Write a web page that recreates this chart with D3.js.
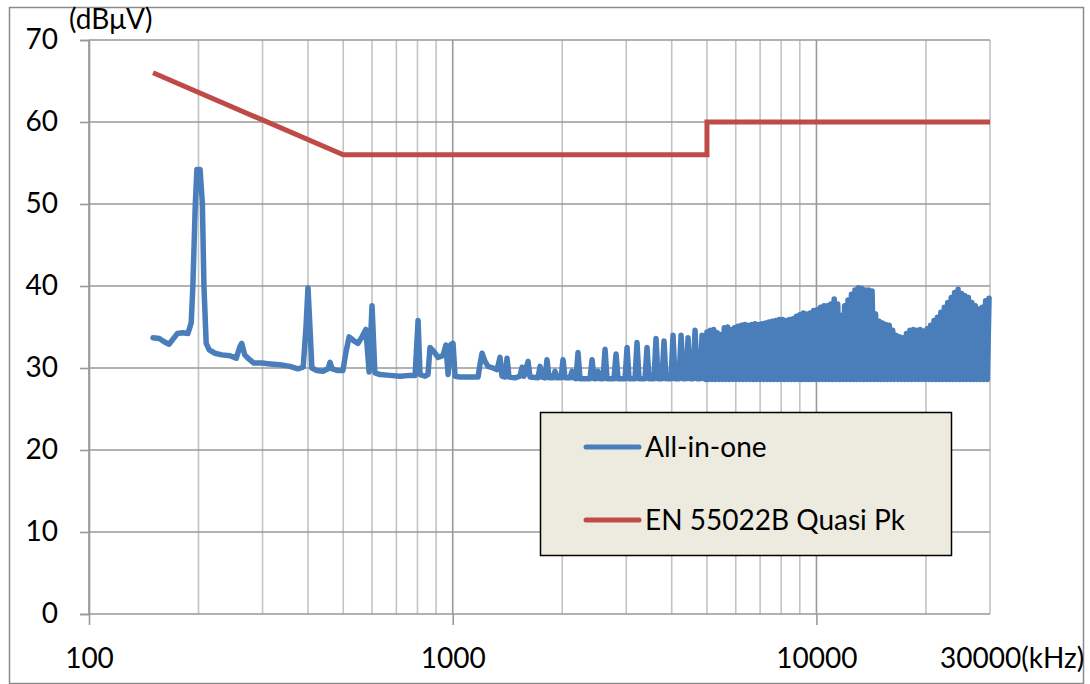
<!DOCTYPE html>
<html><head><meta charset="utf-8">
<script src="https://cdn.jsdelivr.net/npm/d3@7"></script>
<style>
body{margin:0;background:#fff;}
svg{display:block;font-family:Lato,'Open Sans',sans-serif;}
</style></head><body>
<svg id="chart" width="1090" height="684"></svg>
<script>
// ---------- DATA ----------
const yTicks = [0, 10, 20, 30, 40, 50, 60, 70];
const xMajorTicks = [100, 1000, 10000];
const xMinorTicks = [200, 300, 400, 500, 600, 700, 800, 900, 2000, 3000, 4000, 5000, 6000, 7000, 8000, 9000, 20000, 30000];
const yUnit = "(dBμV)";
const xEndLabel = "30000(kHz)";
const seriesNames = ["All-in-one", "EN 55022B Quasi Pk"];

// EN 55022 class B quasi-peak limit
const limitKHz = [150, 500, 5000, 5000, 30000];
const limitDB  = [66, 56, 56, 60, 60];

// measured trace, 150 kHz .. 4.9 MHz (frequency kHz / level dBµV)
const scanKHz = [150,156,161,166,170,175,181,187,191,193,196,198,202,205,207,210,214,222,232,244,254,260,263,268,275,284,299,315,335,357,375,388,395,400,405,410,423,440,454,460,466,481,499,509,519,535,549,563,577,589,600,611,631,672,716,763,788,803,813,839,855,866,888,911,940,958,971,989,1002,1015,1047,1116,1174,1189,1204,1227,1250,1291,1324,1349,1366,1393,1410,1428,1484,1531,1551,1570,1611,1631,1716,1738,1760,1794,1816,1840,1887,1911,1935,1985,2010,2036,2101,2128,2155,2183,2210,2239,2385,2416,2446,2477,2509,2541,2590,2623,2656,2776,2812,2848,2977,3015,3053,3171,3211,3252,3378,3421,3465,3576,3622,3668,3762,3810,3858,3983,4033,4085,4190,4244,4298,4380,4436,4493,4579,4637,4697,4786,4847,4910];
const scanDB  = [33.7,33.6,33.2,32.9,33.5,34.2,34.3,34.2,35.5,40.0,50.0,54.2,54.2,50.0,40.0,33.0,32.2,31.8,31.6,31.5,31.2,32.6,33.0,31.6,31.1,30.6,30.6,30.5,30.4,30.2,29.9,30.1,35.0,39.8,35.0,30.0,29.7,29.6,29.9,30.7,29.9,29.7,29.7,32.0,33.8,33.3,33.0,33.8,34.7,29.5,37.6,29.4,29.2,29.1,29.0,29.1,29.1,35.8,29.2,29.0,29.2,32.5,32.0,31.3,31.5,32.8,29.2,32.9,33.0,29.0,28.9,28.9,28.9,30.5,31.8,30.8,30.2,30.0,29.8,31.3,29.0,28.9,31.2,28.9,28.8,29.0,30.1,29.0,30.8,28.9,28.8,30.2,28.9,28.8,31.0,28.8,28.8,29.6,28.8,28.8,31.0,28.8,28.8,29.6,28.8,28.7,31.9,28.7,28.7,31.0,28.7,28.7,29.6,28.7,28.7,32.3,28.7,28.7,31.7,28.7,28.7,32.5,28.7,28.7,33.1,28.7,28.7,32.5,28.7,28.7,33.6,28.7,28.7,33.3,28.7,28.7,34.0,28.7,28.7,34.0,28.7,28.7,33.7,28.7,28.7,34.6,28.7,28.7,34.0,28.7];

// dense harmonic region 5 MHz .. 30 MHz: peak frequency (kHz) / peak level, floor level
const densePeakKHz = [5000,5110,5220,5340,5460,5580,5700,5820,5950,6080,6220,6350,6490,6640,6780,6930,7090,7240,7400,7560,7730,7900,8070,8250,8430,8620,8810,9000,9200,9400,9610,9820,10040,10260,10490,10720,10950,11190,11440,11690,11950,12210,12480,12760,13040,13320,13620,13920,14220,14540,14860,15180,15520,15860,16210,16560,16930,17300,17680,18070,18470,18880,19290,19720,20150,20590,21050,21510,21980,22470,22960,23470,23980,24510,25050,25600,26170,26740,27330,27930,28550,29180,29820];
const densePeakDB  = [34.4,34.6,34.7,34.3,34.1,34.9,35.0,34.7,34.9,35.1,35.2,35.3,35.2,35.3,35.4,35.3,35.4,35.5,35.6,35.7,35.8,35.9,35.9,35.8,35.9,36.0,36.3,36.5,36.7,36.6,36.7,37.0,37.1,37.4,37.6,37.6,37.8,38.4,37.8,36.4,37.6,38.3,39.0,39.5,39.8,39.7,39.5,39.5,39.4,36.6,35.7,35.5,35.3,35.2,34.6,34.0,33.8,33.7,34.2,34.6,34.7,34.6,34.7,34.5,34.8,35.2,35.8,36.2,36.8,37.4,38.0,38.6,39.2,39.6,39.1,38.8,38.6,38.0,37.6,37.2,37.4,38.2,38.5];
const denseFloorDB = 28.6;

// ---------- BUILD ----------
const limitData = d3.zip(limitKHz, limitDB);
const blueData = d3.zip(scanKHz, scanDB);
let prevF = scanKHz[scanKHz.length - 1];
densePeakKHz.forEach((f, i) => {
  blueData.push([Math.sqrt(prevF * f), denseFloorDB]);
  blueData.push([f, densePeakDB[i]]);
  prevF = f;
});

const svg = d3.select('#chart');
const x = d3.scaleLog().domain([100, 30000]).range([89, 990]);
const y = d3.scaleLinear().domain([0, 70]).range([614, 40]);
const BLUE = '#4A7EBB', RED = '#BE4B48';
const GRID = '#999999', MINOR = '#C3C3C3';
const FS = 28;

// outer frame
svg.append('rect').attr('x', 9.5).attr('y', 7.5).attr('width', 1074).attr('height', 676)
  .attr('fill', '#fff').attr('stroke', '#8C8C8C').attr('stroke-width', 1.5);

// minor vertical grid
svg.append('g').selectAll('line').data(xMinorTicks).join('line')
  .attr('x1', d => x(d)).attr('x2', d => x(d))
  .attr('y1', y(70)).attr('y2', y(0))
  .attr('stroke', MINOR).attr('stroke-width', 1.6);

// horizontal grid
svg.append('g').selectAll('line').data(yTicks).join('line')
  .attr('x1', x(100)).attr('x2', x(30000))
  .attr('y1', d => y(d)).attr('y2', d => y(d))
  .attr('stroke', GRID).attr('stroke-width', 1.6);

// major vertical grid
svg.append('g').selectAll('line').data(xMajorTicks).join('line')
  .attr('x1', d => x(d)).attr('x2', d => x(d))
  .attr('y1', y(70)).attr('y2', y(0))
  .attr('stroke', GRID).attr('stroke-width', 1.6);

// y axis
const yAxis = svg.append('g').attr('transform', `translate(${x(100)},0)`)
  .call(d3.axisLeft(y).tickValues(yTicks).tickSize(9).tickPadding(22).tickFormat(d3.format('d')));
yAxis.select('.domain').attr('stroke', GRID).attr('stroke-width', 1.6);
yAxis.selectAll('.tick line').attr('stroke', GRID).attr('stroke-width', 1.6);
yAxis.selectAll('.tick text').attr('font-size', FS).attr('fill', '#000').attr('font-family', 'Lato');

// x axis
const xAxis = svg.append('g').attr('transform', `translate(0,${y(0)})`)
  .call(d3.axisBottom(x).tickValues(xMajorTicks).tickSize(11).tickPadding(23).tickFormat(d3.format('d')));
xAxis.select('.domain').remove();
xAxis.selectAll('.tick line').attr('stroke', GRID).attr('stroke-width', 1.6);
xAxis.selectAll('.tick text').attr('font-size', FS).attr('fill', '#000').attr('font-family', 'Lato');

// unit labels
svg.append('text').attr('x', 69).attr('y', 29).attr('font-size', FS).text(yUnit);
svg.append('text').attr('x', 940).attr('y', 668).attr('font-size', FS).text(xEndLabel);

// series
const line = d3.line().x(d => x(d[0])).y(d => y(d[1]));
svg.append('path').datum(blueData).attr('d', line)
  .attr('fill', 'none').attr('stroke', BLUE).attr('stroke-width', 5.5)
  .attr('stroke-linejoin', 'round').attr('stroke-linecap', 'round');
svg.append('path').datum(limitData).attr('d', line)
  .attr('fill', 'none').attr('stroke', RED).attr('stroke-width', 5);

// legend
const lg = svg.append('g');
lg.append('rect').attr('x', 540.5).attr('y', 412.5).attr('width', 411).attr('height', 143)
  .attr('fill', '#EDEBE0').attr('stroke', '#000').attr('stroke-width', 1.5);
const lgY = [447, 520];
[BLUE, RED].forEach((c, i) => {
  lg.append('line').attr('x1', 586).attr('x2', 639).attr('y1', lgY[i]).attr('y2', lgY[i])
    .attr('stroke', c).attr('stroke-width', 5).attr('stroke-linecap', 'round');
  lg.append('text').attr('x', 645).attr('y', lgY[i] + 10).attr('font-size', FS).text(seriesNames[i]);
});
</script>
</body></html>
